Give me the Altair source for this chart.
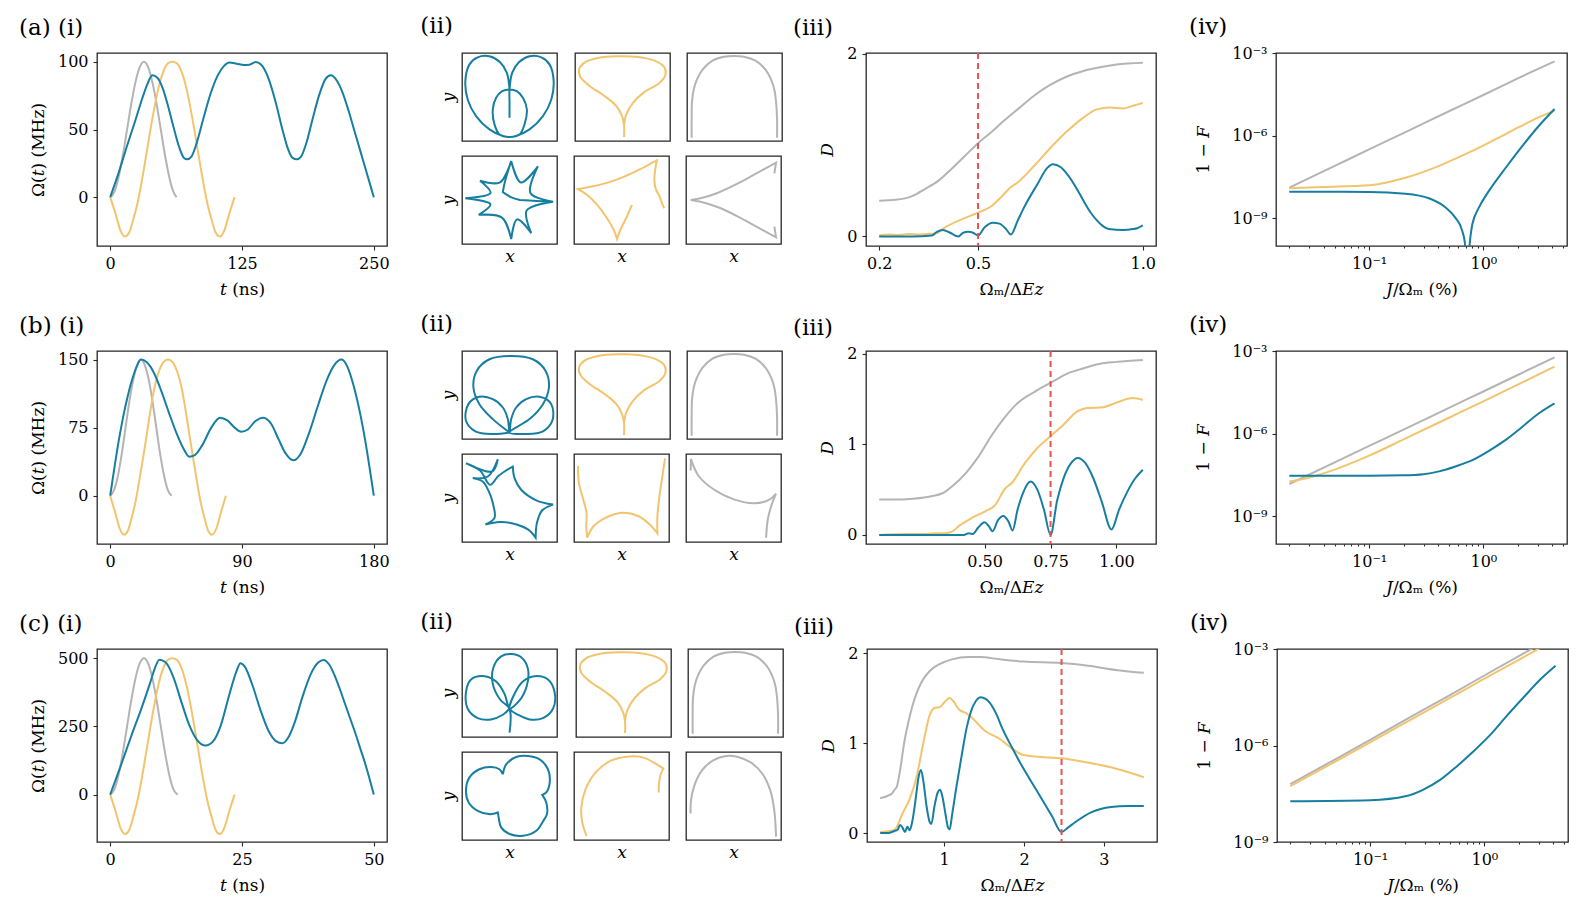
import altair as alt
import pandas as pd

FONT = "DejaVu Serif"
BLUE = "#167fa1"
YEL = "#f2c46d"
GRAY = "#b4b4b4"
RED = "#e8524f"
FRAME = "#262626"

# ---------------- (i) pulse shapes Omega(t) : (t [ns], MHz) ----------------
A_I_GRAY = [(0, 0), (4, 4), (8, 15), (12, 31), (16, 50), (20, 69), (24, 85), (28, 96), (32, 100),
            (36, 96), (40, 85), (44, 69), (48, 50), (52, 31), (56, 15), (60, 4), (63, 0)]
A_I_YEL = [(0, 0), (5, -12), (10, -25), (14, -29), (18, -26), (22, -16), (26, -4), (30, 12), (35, 35),
           (40, 58), (45, 78), (50, 92), (55, 99), (59, 100), (63, 99), (68, 92), (73, 78), (78, 58),
           (83, 35), (88, 12), (92, -4), (96, -16), (100, -26), (104, -29), (108, -25), (113, -12), (118, 0)]
A_I_BLUE = [(0, 0), (8, 18), (16, 38), (24, 57), (30, 72), (35, 83), (40, 90), (45, 88), (50, 80),
            (55, 67), (60, 52), (65, 38), (70, 29), (73, 28), (77, 30), (82, 40), (88, 57), (95, 76),
            (102, 90), (108, 97), (113, 99.5), (120, 98.6), (127, 97.6), (132, 97.8), (138, 99.8),
            (143, 98), (150, 88), (157, 70), (163, 51), (168, 37), (173, 29), (177, 28), (181, 30),
            (186, 40), (192, 58), (198, 75), (204, 87), (209, 90), (215, 86), (220, 78), (226, 64),
            (232, 48), (238, 32), (244, 16), (250, 0)]

B_I_GRAY = [(0, 0), (2.6, 6), (5.3, 22), (7.9, 46), (10.5, 75), (13.1, 104), (15.8, 128), (18.4, 144),
            (21, 150), (23.6, 144), (26.3, 128), (28.9, 104), (31.5, 75), (34.1, 46), (36.8, 22),
            (39.4, 6), (42, 0)]
B_I_YEL = [(0, 0), (3.3, -18), (6.7, -37), (9.5, -43), (12, -39), (14.7, -24), (17.4, -6), (20, 18),
           (23.5, 52), (26.8, 87), (30, 117), (33.5, 138), (36.8, 148), (39.5, 150), (42.2, 148),
           (45.5, 138), (49, 117), (52.2, 87), (55.6, 52), (59, 18), (61.6, -6), (64.3, -24), (67, -39),
           (69.5, -43), (72.3, -37), (75.7, -18), (79, 0)]
B_I_BLUE = [(0, 0), (3, 32), (6, 62), (9, 88), (12, 110), (15, 128), (18, 142), (21, 150), (25, 147),
            (30, 135), (35, 115), (40, 92), (45, 70), (50, 52), (54, 43), (58, 45), (63, 56), (69, 75),
            (75, 86), (80, 83), (85, 75), (89.5, 70.5), (94, 73), (99, 82), (104.5, 86), (110, 79),
            (115, 62), (120, 46), (125, 39), (130, 46), (136, 70), (142, 100), (148, 128), (153, 144),
            (158, 150), (162, 142), (165, 128), (168, 110), (171, 88), (174, 62), (177, 32), (180, 0)]

C_I_GRAY = [(0, 0), (0.8, 19), (1.6, 73), (2.4, 154), (3.2, 250), (4, 346), (4.8, 427), (5.6, 481),
            (6.4, 500), (7.2, 481), (8, 427), (8.8, 346), (9.6, 250), (10.4, 154), (11.2, 73),
            (12, 19), (12.8, 0)]
C_I_YEL = [(0, 0), (1, -60), (2, -125), (2.8, -145), (3.6, -130), (4.4, -80), (5.2, -20), (6, 60),
           (7, 175), (8, 290), (9, 390), (10, 460), (11, 495), (11.8, 500), (12.6, 495), (13.6, 460),
           (14.6, 390), (15.6, 290), (16.6, 175), (17.6, 60), (18.4, -20), (19.2, -80), (20, -130),
           (20.8, -145), (21.6, -125), (22.6, -60), (23.6, 0)]
C_I_BLUE = [(0, 0), (2, 105), (4, 215), (6, 320), (7.5, 405), (8.5, 465), (9.3, 495), (10.5, 485),
            (12, 430), (13.5, 340), (15, 255), (16.5, 200), (18.1, 180), (19.5, 195), (21, 255),
            (22.5, 360), (24, 455), (24.7, 482), (25.5, 470), (27, 400), (28.5, 310), (30, 235),
            (31.5, 195), (32.6, 188), (33.8, 210), (35, 265), (36.5, 360), (38, 440), (39.5, 485),
            (40.5, 494), (41.5, 478), (42.5, 440), (43.5, 390), (44.5, 335), (45.5, 280), (46.5, 225),
            (47.5, 165), (48.5, 105), (49.3, 50), (50, 0)]

# ---------------- (iii) D versus Omega_m / Delta E_z ----------------
A_III_GRAY = [(0.2, 0.39), (0.25, 0.40), (0.3, 0.44), (0.34, 0.52), (0.38, 0.61), (0.42, 0.74),
              (0.46, 0.88), (0.5, 1.02), (0.54, 1.14), (0.58, 1.27), (0.62, 1.39), (0.67, 1.54),
              (0.72, 1.66), (0.77, 1.75), (0.82, 1.81), (0.87, 1.85), (0.92, 1.88), (1.0, 1.9)]
A_III_YEL = [(0.2, 0.01), (0.23, 0.02), (0.26, 0.015), (0.29, 0.025), (0.32, 0.02), (0.35, 0.03),
             (0.37, 0.03), (0.4, 0.1), (0.44, 0.17), (0.48, 0.23), (0.5, 0.26), (0.54, 0.33),
             (0.57, 0.43), (0.6, 0.54), (0.62, 0.59), (0.67, 0.77), (0.72, 0.97), (0.77, 1.15),
             (0.82, 1.3), (0.86, 1.39), (0.9, 1.41), (0.94, 1.40), (0.97, 1.43), (1.0, 1.46)]
A_III_BLUE = [(0.2, 0.0), (0.3, 0.0), (0.36, 0.01), (0.375, 0.05), (0.393, 0.07), (0.415, 0.04),
              (0.44, 0.0), (0.455, 0.04), (0.47, 0.05), (0.485, 0.04), (0.5, 0.01), (0.52, 0.1),
              (0.545, 0.15), (0.565, 0.14), (0.585, 0.08), (0.6, 0.02), (0.62, 0.17), (0.64, 0.32),
              (0.68, 0.57), (0.71, 0.75), (0.727, 0.79), (0.75, 0.76), (0.771, 0.68), (0.8, 0.52),
              (0.82, 0.39), (0.84, 0.27), (0.862, 0.17), (0.88, 0.11), (0.897, 0.08), (0.94, 0.07),
              (0.97, 0.08), (0.983, 0.09), (1.0, 0.12)]

B_III_GRAY = [(0.1, 0.39), (0.15, 0.39), (0.229, 0.40), (0.303, 0.43), (0.34, 0.46), (0.378, 0.54),
              (0.428, 0.68), (0.478, 0.87), (0.527, 1.10), (0.577, 1.30), (0.627, 1.46), (0.689, 1.58),
              (0.751, 1.68), (0.813, 1.78), (0.876, 1.84), (0.938, 1.89), (1.0, 1.91), (1.1, 1.93)]
B_III_YEL = [(0.1, 0.0), (0.2, 0.01), (0.28, 0.01), (0.32, 0.02), (0.35, 0.02), (0.378, 0.04),
             (0.403, 0.1), (0.453, 0.19), (0.502, 0.26), (0.54, 0.33), (0.577, 0.51), (0.602, 0.57),
             (0.652, 0.79), (0.7, 0.96), (0.75, 1.09), (0.8, 1.22), (0.85, 1.36), (0.888, 1.4),
             (0.95, 1.41), (1.0, 1.46), (1.062, 1.51), (1.1, 1.49)]
B_III_BLUE = [(0.1, 0.0), (0.3, 0.0), (0.42, 0.0), (0.44, 0.02), (0.455, 0.01), (0.475, 0.08),
              (0.5, 0.14), (0.515, 0.10), (0.53, 0.04), (0.55, 0.16), (0.571, 0.21), (0.59, 0.15),
              (0.606, 0.05), (0.625, 0.28), (0.645, 0.46), (0.674, 0.59), (0.7, 0.50), (0.725, 0.28),
              (0.75, 0.0), (0.775, 0.38), (0.8, 0.63), (0.83, 0.80), (0.853, 0.85), (0.88, 0.80),
              (0.913, 0.62), (0.945, 0.36), (0.981, 0.06), (1.01, 0.28), (1.04, 0.47), (1.07, 0.62),
              (1.1, 0.72)]

C_III_GRAY = [(0.2, 0.39), (0.26, 0.40), (0.31, 0.42), (0.35, 0.44), (0.38, 0.48), (0.41, 0.52),
              (0.45, 0.7), (0.5, 1.0), (0.55, 1.22), (0.6, 1.40), (0.65, 1.54), (0.72, 1.68),
              (0.82, 1.8), (0.95, 1.88), (1.1, 1.93), (1.3, 1.955), (1.45, 1.955), (1.7, 1.93),
              (2.0, 1.905), (2.47, 1.89), (2.8, 1.86), (3.17, 1.81), (3.5, 1.78)]
C_III_YEL = [(0.2, 0.01), (0.3, 0.02), (0.37, 0.03), (0.41, 0.07), (0.47, 0.2), (0.57, 0.38),
             (0.66, 0.64), (0.74, 1.0), (0.82, 1.31), (0.88, 1.39), (0.95, 1.40), (1.0, 1.45),
             (1.07, 1.5), (1.12, 1.46), (1.19, 1.37), (1.28, 1.33), (1.36, 1.27), (1.52, 1.13),
             (1.69, 1.05), (1.85, 0.94), (1.98, 0.87), (2.14, 0.85), (2.47, 0.83), (2.76, 0.79),
             (3.09, 0.73), (3.5, 0.62)]
C_III_BLUE = [(0.2, 0.0), (0.3, 0.0), (0.37, 0.02), (0.42, 0.04), (0.45, 0.09), (0.48, 0.06),
              (0.51, 0.01), (0.54, 0.07), (0.57, 0.03), (0.6, 0.12), (0.64, 0.35), (0.68, 0.62),
              (0.71, 0.70), (0.74, 0.58), (0.78, 0.30), (0.82, 0.12), (0.84, 0.10), (0.88, 0.30),
              (0.92, 0.45), (0.95, 0.48), (0.98, 0.40), (1.01, 0.25), (1.05, 0.06), (1.07, 0.04),
              (1.1, 0.2), (1.15, 0.49), (1.22, 0.86), (1.28, 1.16), (1.34, 1.36), (1.4, 1.47),
              (1.46, 1.51), (1.52, 1.49), (1.57, 1.45), (1.65, 1.33), (1.73, 1.16), (1.85, 0.95),
              (1.94, 0.80), (2.14, 0.50), (2.35, 0.19), (2.47, 0.01), (2.55, 0.06), (2.64, 0.12),
              (2.84, 0.23), (3.09, 0.29), (3.3, 0.3), (3.5, 0.3)]

RULE_A, RULE_B, RULE_C = 0.5, 0.75, 2.47

# ---------------- (iv) 1-F versus J/Omega_m (%) ----------------
A_IV_GRAY = [(0.02, 1.3e-8), (0.05, 8.0e-8), (0.1, 3.2e-7), (0.2, 1.25e-6), (0.5, 7.7e-6),
             (1, 3.0e-5), (2, 1.2e-4), (4.2, 5.0e-4)]
A_IV_YEL = [(0.02, 1.23e-8), (0.039, 1.38e-8), (0.1, 1.6e-8), (0.208, 3.0e-8), (0.41, 8.1e-8),
            (0.8, 2.8e-7), (1.57, 1.15e-6), (3.07, 4.7e-6), (4.2, 8.1e-6)]
A_IV_BLUE = [(0.02, 9.3e-9), (0.1, 9.1e-9), (0.208, 7.9e-9), (0.334, 5.4e-9), (0.467, 2.5e-9),
             (0.57, 1.05e-9), (0.654, 3.5e-10), (0.69, 1.25e-10), (0.72, 8e-12), (0.76, 1.25e-10),
             (0.8, 6e-10), (0.916, 2.5e-9), (1.12, 1.0e-8), (1.57, 6.9e-8), (2.2, 4.3e-7),
             (3.07, 2.3e-6), (4.2, 9.3e-6)]
B_IV_GRAY = [(0.02, 1.5e-8), (0.05, 9.2e-8), (0.1, 3.6e-7), (0.2, 1.4e-6), (0.5, 8.7e-6),
             (1, 3.4e-5), (2, 1.35e-4), (4.2, 5.9e-4)]
B_IV_YEL = [(0.02, 1.85e-8), (0.03, 2.6e-8), (0.05, 5.0e-8), (0.1, 1.6e-7), (0.2, 6.2e-7),
            (0.5, 3.8e-6), (1, 1.5e-5), (2, 6.0e-5), (4.2, 2.7e-4)]
B_IV_BLUE = [(0.02, 3.0e-8), (0.1, 3.0e-8), (0.2, 3.1e-8), (0.3, 3.4e-8), (0.41, 4.3e-8),
             (0.57, 6.5e-8), (0.8, 1.1e-7), (1.12, 2.4e-7), (1.57, 6.0e-7), (2.2, 1.8e-6),
             (3.07, 5.5e-6), (4.2, 1.26e-5)]
C_IV_GRAY = [(0.02, 6.3e-8), (0.05, 3.8e-7), (0.1, 1.5e-6), (0.2, 6.0e-6), (0.5, 3.7e-5),
             (1, 1.5e-4), (2, 6.0e-4), (4.2, 2.6e-3)]
C_IV_YEL = [(0.02, 5.5e-8), (0.05, 3.2e-7), (0.1, 1.25e-6), (0.2, 5.0e-6), (0.5, 3.0e-5),
            (1, 1.2e-4), (2, 4.6e-4), (4.2, 2.0e-3)]
C_IV_BLUE = [(0.02, 1.86e-8), (0.1, 2.0e-8), (0.208, 2.7e-8), (0.29, 4.2e-8), (0.41, 8.5e-8),
             (0.57, 2.2e-7), (0.8, 6.5e-7), (1.12, 2.1e-6), (1.57, 8.3e-6), (2.2, 3.1e-5),
             (3.07, 1.1e-4), (4.2, 3.0e-4)]
MINOR_X = [0.02, 0.03, 0.04, 0.05, 0.06, 0.07, 0.08, 0.09, 0.2, 0.3, 0.4, 0.5, 0.6, 0.7, 0.8, 0.9,
           2, 3, 4, 5]

# ---------------- (ii) trajectories in the xy plane (box units 0-100) ----------------
YEL_TOP = [(51.6, 4.5), (51.6, 18.1), (49.5, 28.3), (43.6, 39.6), (31.4, 50.9), (15.7, 62.3),
           (5.9, 72.5), (4.2, 81.1), (10.5, 89.4), (24.4, 94.3), (45.3, 96.2), (66.2, 95.5),
           (83.6, 91.3), (94.1, 83.8), (95.1, 74.7), (88.9, 66.0), (73.2, 55.8), (61.0, 43.4),
           (54.0, 30.2), (51.6, 18.1)]
GRAY_TOP = [(4.9, 3.8), (4.9, 25), (5.3, 45), (7.0, 58), (10.5, 70), (16.4, 81.1), (26.8, 91.3),
            (39.0, 95.8), (49.5, 96.6), (59.9, 95.8), (72.1, 91.3), (82.6, 81.1), (88.5, 70),
            (92.0, 58), (93.7, 45), (94.8, 25), (94.8, 3.8)]

A_II_BLUE_TOP = [(50, 26.4), (50, 45.3), (50, 58.5), (52.8, 77.4), (59.9, 89.4), (71.1, 96.2),
                 (83.5, 95.1), (92.3, 86.8), (96.5, 67.9), (94.0, 47.2), (85.2, 28.3), (71.1, 13.2),
                 (57.0, 5.7), (50, 4.5), (39.4, 7.5), (34.2, 18.9), (32.4, 35.8), (35.9, 49.1),
                 (42.3, 56.6), (50, 58.5), (57.7, 56.6), (64.1, 49.1), (68.3, 35.8), (65.8, 18.9),
                 (60.6, 7.5), (50, 4.5), (43.0, 5.7), (28.9, 13.2), (14.8, 28.3), (6.0, 47.2),
                 (3.5, 67.9), (7.7, 86.8), (16.5, 95.1), (28.9, 96.2), (40.1, 89.4), (47.2, 77.4),
                 (50, 58.5)]
A_II_BLUE_BOT = [(51.8, 94.4), (51.8, 94.4), (62, 70), (79.9, 88.3), (79.9, 88.3), (72, 58),
                 (95.8, 48.1), (95.8, 48.1), (68, 38), (72.9, 12.4), (72.9, 12.4), (58, 28),
                 (51.8, 5.6), (51.8, 5.6), (42, 30), (17.6, 33.1), (17.6, 33.1), (30, 45),
                 (3.5, 51.9), (3.5, 51.9), (30, 58), (19.0, 71.8), (19.0, 71.8), (40, 70),
                 (51.8, 94.4), (51.8, 94.4), (45, 70), (43, 59), (43, 59), (52, 53), (61, 50),
                 (61, 50), (78, 49), (95.8, 48.1)]
A_II_YEL_BOT = [(61.0, 44.4), (55.7, 31.2), (48.8, 16.2), (45.3, 5.6), (45.3, 5.6), (41.8, 16.2),
                (34.8, 29.3), (24.4, 44.4), (13.9, 55.6), (4.2, 62.4), (4.2, 62.4), (17.4, 65.0),
                (34.8, 69.5), (52.3, 76.3), (69.7, 85.0), (81.9, 92.1), (87.1, 95.1), (87.1, 95.1),
                (85.2, 82), (84.6, 72), (86.2, 62), (89.5, 55.5), (89.5, 55.5), (91.5, 50),
                (93.5, 44), (95.1, 40.6)]
A_II_GRAY_BOT = [(93.0, 80.1), (94.8, 92.5), (94.8, 92.5), (75.6, 81.2), (54.7, 68.8), (33.8, 58.3),
                 (16.4, 52.3), (4.9, 50.0), (4.9, 50.0), (16.4, 47.7), (33.8, 41.7), (54.7, 31.2),
                 (75.6, 18.8), (94.8, 7.5), (94.8, 7.5), (93.0, 19.9)]

B_II_BLUE_TOP = [(50, 7.5), (32.4, 22.6), (18.3, 39.6), (12.0, 58.5), (15.5, 77.4), (28.9, 90.6),
                 (51.8, 94.3), (74.6, 90.6), (88.0, 77.4), (91.5, 58.5), (85.2, 39.6), (71.1, 22.6),
                 (50, 7.5), (67.6, 5.7), (85.2, 8.7), (95.1, 20.8), (94.0, 39.6), (81.7, 47.9),
                 (67.6, 45.3), (57.0, 35.8), (51.8, 22.6), (50, 7.5), (48.2, 22.6), (43.0, 35.8),
                 (32.4, 45.3), (18.3, 47.9), (6.7, 39.6), (4.2, 20.8), (14.1, 8.7), (32.4, 5.7),
                 (50, 7.5)]
B_II_BLUE_BOT = [(24.6, 19.9), (24.6, 19.9), (34.2, 27.4), (32.4, 44.4), (28.2, 57.5), (21.8, 68.8),
                 (11.3, 72.6), (11.3, 72.6), (27.1, 74.4), (37.7, 94.0), (37.7, 94.0), (31.7, 80.1),
                 (4.2, 89.5), (4.2, 89.5), (19.0, 81.2), (29.6, 65.0), (37.7, 74.4), (44.7, 80.1),
                 (53.5, 85.7), (53.5, 85.7), (55.3, 72.6), (62.3, 59.4), (78.2, 47.4), (95.8, 42.5),
                 (95.8, 42.5), (84.5, 36.1), (78.9, 21.8), (77.5, 4.9), (77.5, 4.9), (69.4, 14.3),
                 (53.5, 21.1), (39.4, 22.6), (24.6, 19.9)]
B_II_YEL_BOT = [(4.2, 86.5), (5.2, 66.9), (9.8, 48.1), (13.2, 33.1), (12.9, 18.0), (13.9, 4.9),
                (13.9, 4.9), (20.2, 17.3), (33.1, 27.4), (50.5, 33.1), (67.9, 29.3), (80.8, 18.8),
                (87.8, 9.8), (87.8, 9.8), (87.8, 29.3), (89.9, 51.9), (93.0, 74.4), (95.8, 95.1)]
B_II_GRAY_BOT = [(4.9, 81.2), (5.2, 94.4), (5.2, 94.4), (12.9, 75.6), (28.6, 60.2), (51.2, 48.1),
                 (72.1, 44.0), (87.8, 48.1), (94.8, 54.9), (94.8, 54.9), (90.2, 42.5), (86.1, 25.6),
                 (84.3, 4.9)]

C_II_BLUE_TOP = [(50, 4.9), (50, 32.1), (40.1, 42.6), (32.4, 60.4), (33.1, 79.2), (41.2, 91.7),
                 (51.8, 94.3), (62.3, 90.6), (69.4, 77.4), (68.3, 58.5), (60.6, 41.5), (50, 32.1),
                 (55.3, 49.1), (64.1, 63.0), (76.4, 69.1), (90.5, 65.3), (97.5, 50.9), (95.8, 32.1),
                 (85.2, 21.5), (71.1, 20.0), (58.8, 25.3), (50, 32.1), (44.7, 49.1), (35.9, 63.0),
                 (23.6, 69.1), (9.5, 65.3), (4.2, 50.9), (6.0, 32.1), (16.5, 21.5), (30.6, 20.0),
                 (43.0, 25.3), (50, 32.1)]
C_II_BLUE_BOT = [(43.0, 74.7), (43.0, 74.7), (46.5, 86.0), (57.0, 94.3), (69.4, 95.5), (81.7, 91.7),
                 (90.5, 80.4), (92.3, 65.3), (88.7, 54.0), (84.5, 51.3), (84.5, 51.3), (88.7, 42.6),
                 (89.4, 29.4), (85.2, 21.1), (78.2, 10.6), (64.1, 4.9), (50.0, 6.8), (41.2, 14.3),
                 (38.7, 24.9), (37.7, 31.3), (37.7, 31.3), (29.6, 29.4), (16.5, 33.2), (7.0, 42.6),
                 (4.2, 55.8), (7.7, 70.9), (18.3, 80.4), (30.6, 83.0), (39.4, 80.4), (43.0, 74.7)]
C_II_YEL_BOT = [(13.2, 4.5), (8.7, 20.0), (7.7, 37.0), (12.2, 57.7), (22.6, 76.6), (38.3, 89.8),
                (55.7, 94.7), (73.2, 93.6), (87.1, 86.0), (94.1, 81.1), (94.1, 81.1), (91.3, 74.7),
                (89.5, 64.2), (89.2, 54.0)]
C_II_GRAY_BOT = [(4.9, 30.2), (5.2, 44.5), (8.7, 61.5), (16.4, 78.5), (28.6, 90.6), (42.5, 95.5),
                 (54.7, 94.3), (68.6, 87.9), (80.8, 74.7), (88.9, 55.8), (93.0, 33.2), (94.8, 3.8)]


def pts(pairs):
    return pd.DataFrame({"x": [p[0] for p in pairs], "y": [p[1] for p in pairs],
                         "i": list(range(len(pairs)))})


def panel_label(text, dx, offset):
    return alt.TitleParams(text, anchor="start", frame="bounds", dx=dx, offset=offset,
                           fontSize=23, font=FONT, fontWeight="normal", color="black")


def lin_panel(series, xdom, ydom, xvals, yvals, xfmt, yfmt, xtitle, ytitle, yext, ytp,
              label, ldx, loff, rule_x=None):
    xax = alt.Axis(values=xvals, format=xfmt, title=xtitle, titlePadding=10)
    yax = alt.Axis(values=yvals, format=yfmt, title=ytitle, titlePadding=ytp,
                   minExtent=yext, maxExtent=yext)
    xs = alt.Scale(domain=xdom, nice=False, zero=False)
    ys = alt.Scale(domain=ydom, nice=False, zero=False)
    layers = []
    for pairs, color, w in series:
        layers.append(alt.Chart(pts(pairs)).mark_line(
            color=color, strokeWidth=w, interpolate="monotone", clip=True).encode(
            x=alt.X("x:Q", scale=xs, axis=xax), y=alt.Y("y:Q", scale=ys, axis=yax)))
    if rule_x is not None:
        layers.append(alt.Chart(pd.DataFrame({"x": [rule_x]})).mark_rule(
            color=RED, strokeWidth=2, strokeDash=[6, 4]).encode(
            x=alt.X("x:Q", scale=xs, axis=xax)))
    return alt.layer(*layers).properties(width=290, height=193,
                                         title=panel_label(label, ldx, loff))


def log_panel(series, ydom, label, ldx, loff):
    xs = alt.Scale(type="log", domain=[0.0153, 5.4], nice=False)
    ys = alt.Scale(type="log", domain=ydom, nice=False)
    xmaj = alt.Axis(values=[0.1, 1], labelExpr="datum.value < 0.5 ? '10⁻¹' : '10⁰'",
                    title="𝐽/Ωₘ (%)", titlePadding=10, orient="bottom")
    xmin = alt.Axis(values=MINOR_X, labels=False, tickSize=2, title=None, orient="bottom")
    yax = alt.Axis(values=[1e-9, 1e-6, 1e-3],
                   labelExpr="datum.value > 1e-4 ? '10⁻³' : (datum.value > 1e-7 ? '10⁻⁶' : '10⁻⁹')",
                   title="1 − 𝐹", titlePadding=14, minExtent=50, maxExtent=50)
    charts = []
    for k, (pairs, color, w) in enumerate(series):
        charts.append(alt.Chart(pts(pairs)).mark_line(
            color=color, strokeWidth=w, interpolate="monotone", clip=True).encode(
            x=alt.X("x:Q", scale=xs, axis=xmin if k == 0 else xmaj),
            y=alt.Y("y:Q", scale=ys, axis=yax)))
    return alt.layer(charts[0], alt.layer(charts[1], charts[2])).resolve_axis(
        x="independent").properties(width=291, height=193, title=panel_label(label, ldx, loff))


def box(pairs, color, ytitle=False, xtitle=False):
    xax = alt.Axis(labels=False, ticks=False, domain=False, grid=False, title="𝑥",
                   titlePadding=4) if xtitle else None
    yax = alt.Axis(labels=False, ticks=False, domain=False, grid=False, title="𝑦",
                   titlePadding=5) if ytitle else None
    return alt.Chart(pts(pairs)).mark_line(
        color=color, strokeWidth=2, interpolate="catmull-rom").encode(
        x=alt.X("x:Q", scale=alt.Scale(domain=[0, 100], nice=False), axis=xax),
        y=alt.Y("y:Q", scale=alt.Scale(domain=[0, 100], nice=False), axis=yax),
        order="i:Q").properties(width=95, height=88)


def boxes(shapes):
    top = alt.hconcat(box(shapes[0], BLUE, ytitle=True), box(shapes[1], YEL),
                      box(shapes[2], GRAY), spacing=15)
    bot = alt.hconcat(box(shapes[3], BLUE, ytitle=True, xtitle=True),
                      box(shapes[4], YEL, xtitle=True), box(shapes[5], GRAY, xtitle=True),
                      spacing=15)
    return alt.vconcat(top, bot, spacing=12, title=panel_label("(ii)", -18, 13))


def row(letter, i_series, i_xdom, i_ydom, i_xv, i_yv, ii_shapes, iii_series, iii_xdom, iii_ydom,
        iii_xv, iii_fmt, rule_x, iv_series, iv_ydom, s1):
    p1 = lin_panel(i_series, i_xdom, i_ydom, i_xv, i_yv, "d", "d", "𝑡 (ns)", "Ω(𝑡) (MHz)",
                   38, 12, "(" + letter + ") (i)", -10, 13)
    p2 = boxes(ii_shapes)
    p3 = lin_panel(iii_series, iii_xdom, iii_ydom, iii_xv, [0, 1, 2], iii_fmt, "d",
                   "Ωₘ/Δ𝐸𝑧", "𝐷", 18, 12, "(iii)", -25, 6, rule_x=rule_x)
    p4 = log_panel(iv_series, iv_ydom, "(iv)", -5, 6)
    return alt.hconcat(alt.hconcat(p1, p2, spacing=s1),
                       alt.hconcat(p3, p4, spacing=31), spacing=9)


rowA = row("a", [(A_I_GRAY, GRAY, 2), (A_I_YEL, YEL, 2), (A_I_BLUE, BLUE, 2)],
           [-12.5, 262.5], [-36, 106.5], [0, 125, 250], [0, 50, 100],
           [A_II_BLUE_TOP, YEL_TOP, GRAY_TOP, A_II_BLUE_BOT, A_II_YEL_BOT, A_II_GRAY_BOT],
           [(A_III_GRAY, GRAY, 2), (A_III_YEL, YEL, 2), (A_III_BLUE, BLUE, 2)],
           [0.16, 1.04], [-0.105, 2.007], [0.2, 0.5, 1.0], ".1f", RULE_A,
           [(A_IV_GRAY, GRAY, 2), (A_IV_YEL, YEL, 2), (A_IV_BLUE, BLUE, 2)], [1e-10, 1e-3], 30)
rowB = row("b", [(B_I_GRAY, GRAY, 2), (B_I_YEL, YEL, 2), (B_I_BLUE, BLUE, 2)],
           [-9, 189], [-53.3, 159.5], [0, 90, 180], [0, 75, 150],
           [B_II_BLUE_TOP, YEL_TOP, GRAY_TOP, B_II_BLUE_BOT, B_II_YEL_BOT, B_II_GRAY_BOT],
           [(B_III_GRAY, GRAY, 2), (B_III_YEL, YEL, 2), (B_III_BLUE, BLUE, 2)],
           [0.05, 1.15], [-0.1, 2.03], [0.5, 0.75, 1.0], ".2f", RULE_B,
           [(B_IV_GRAY, GRAY, 2), (B_IV_YEL, YEL, 2), (B_IV_BLUE, BLUE, 2)], [1e-10, 1e-3], 30)
rowC = row("c", [(C_I_GRAY, GRAY, 2), (C_I_YEL, YEL, 2), (C_I_BLUE, BLUE, 2)],
           [-2.5, 52.5], [-174, 534], [0, 25, 50], [0, 250, 500],
           [C_II_BLUE_TOP, YEL_TOP, GRAY_TOP, C_II_BLUE_BOT, C_II_YEL_BOT, C_II_GRAY_BOT],
           [(C_III_GRAY, GRAY, 2), (C_III_YEL, YEL, 2), (C_III_BLUE, BLUE, 2)],
           [0.035, 3.665], [-0.1, 2.045], [1, 2, 3], "d", RULE_C,
           [(C_IV_GRAY, GRAY, 2), (C_IV_YEL, YEL, 2), (C_IV_BLUE, BLUE, 2)], [1e-9, 1e-3], 32)

chart = alt.vconcat(rowA, rowB, rowC, spacing=15).properties(
    padding={"left": 10, "top": 7, "right": 0, "bottom": 10}
).configure_view(stroke=FRAME, strokeWidth=1.3).configure_axis(
    labelFont=FONT, titleFont=FONT, labelFontSize=16, titleFontSize=17, labelColor="black",
    titleColor="black", titleFontWeight="normal", tickColor=FRAME, tickWidth=1.1, tickSize=4,
    labelPadding=5, domain=False, grid=False
).configure_title(font=FONT, fontSize=23, fontWeight="normal", color="black")

chart.save("out.html", embed_options={"renderer": "svg", "actions": False})
